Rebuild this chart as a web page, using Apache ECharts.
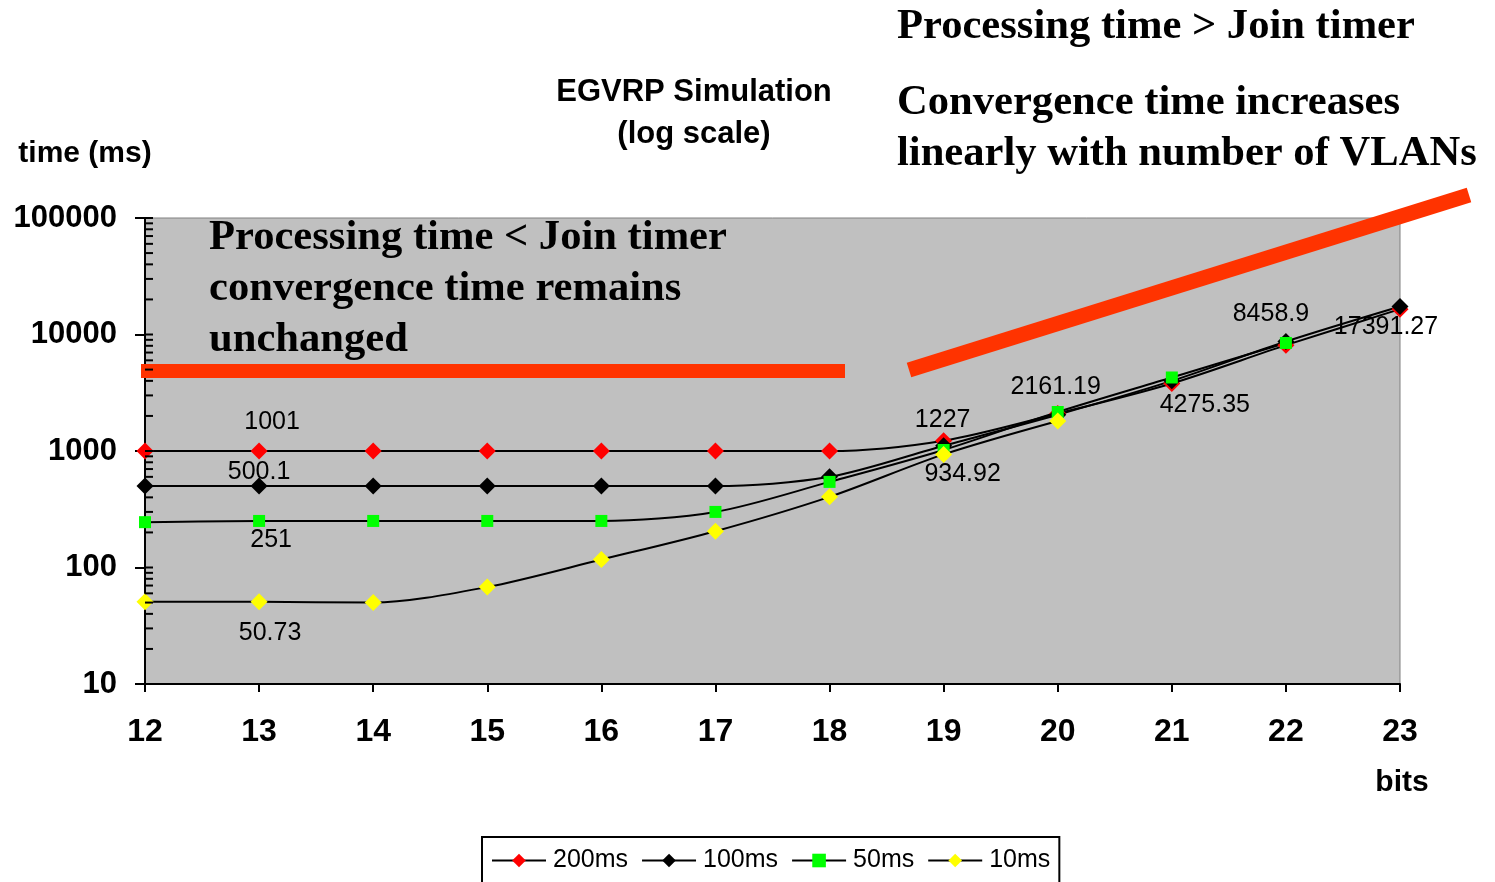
<!DOCTYPE html>
<html>
<head>
<meta charset="utf-8">
<script src="https://cdn.jsdelivr.net/npm/echarts@6/dist/echarts.min.js"></script>
<style>
html,body{margin:0;padding:0;background:#fff;}
#chart{width:1495px;height:882px;}
</style>
</head>
<body>
<div id="chart"></div>
<script>
// ---- data ----
var bits = ['12','13','14','15','16','17','18','19','20','21','22','23'];
var s200 = [1001, 1001, 1001, 1001, 1001, 1001, 1001, 1227, 2100, 3800, 8100, 16500];
var s100 = [500.1, 500.1, 500.1, 500.1, 500.1, 500.1, 600, 1110, 2050, 4000, 8700, 17391.27];
var s50  = [245, 251, 251, 251, 251, 300, 543, 1020, 2161.19, 4275.35, 8458.9];
var s10  = [50.73, 50.73, 50, 68, 117, 205, 404, 934.92, 1810];
var seriesNames = ['200ms', '100ms', '50ms', '10ms'];
var yTicks = [10, 100, 1000, 10000, 100000];

// label offsets (style) keyed by point index
var labelCfg = {
  '200ms': {1: [13, -29], 7: [-1, -21]},
  '100ms': {1: [0, -14], 11: [-14, 21]},
  '50ms':  {1: [12, 19], 8: [-2, -25], 9: [33, 28], 10: [-15, -29]},
  '10ms':  {1: [11, 31], 7: [19, 20]}
};

function buildData(name, arr) {
  var cfg = labelCfg[name] || {};
  return arr.map(function (v, i) {
    if (cfg[i]) {
      return {value: v, label: {show: true, position: 'inside', offset: cfg[i], color: '#000',
        fontFamily: 'Liberation Sans', fontSize: 25, formatter: String(v)}};
    }
    return v;
  });
}

// tick positions on the log axis (1..9 within each decade)
var minorTicks = [];
for (var d = 10; d < 100000; d *= 10) {
  for (var k = 1; k <= 9; k++) minorTicks.push(d * k);
}
minorTicks.push(100000);

var chart = echarts.init(document.getElementById('chart'), null, {renderer: 'canvas'});

var sans = 'Liberation Sans';

function mkSeries(name, arr, symbol, size, color) {
  return {
    name: name, type: 'line', data: buildData(name, arr),
    smooth: 0.3, symbol: symbol, symbolSize: size, showAllSymbol: true,
    lineStyle: {color: '#000', width: 2},
    itemStyle: {color: color, borderWidth: 0},
    emphasis: {disabled: true},
    z: 3
  };
}

var option = {
  animation: false,
  backgroundColor: '#fff',
  grid: {left: 145, right: 95, top: 218, bottom: 198, show: true,
    backgroundColor: '#C0C0C0', borderColor: '#808080', borderWidth: 1},
  legend: {
    data: seriesNames.map(function (n) { return {name: n}; }),
    left: 482, top: 837, orient: 'horizontal',
    itemWidth: 54, itemHeight: 17, itemGap: 13,
    padding: [11, 9, 12, 9],
    borderColor: '#000', borderWidth: 2, backgroundColor: '#fff',
    textStyle: {fontFamily: sans, fontSize: 25, color: '#000', padding: [0, 0, 0, 2]}
  },
  xAxis: {
    type: 'category', data: bits, boundaryGap: false,
    axisLine: {lineStyle: {color: '#000', width: 2}},
    axisTick: {show: true, length: 8, lineStyle: {color: '#000', width: 2}, alignWithLabel: true},
    axisLabel: {fontFamily: sans, fontWeight: 'bold', fontSize: 32, color: '#000', margin: 32},
    splitLine: {show: false}
  },
  yAxis: {
    type: 'log', logBase: 10, min: 10, max: 100000,
    axisLine: {show: true, lineStyle: {color: '#000', width: 2}},
    axisTick: {show: true, length: 10, lineStyle: {color: '#000', width: 2}},
    axisLabel: {fontFamily: sans, fontWeight: 'bold', fontSize: 31, color: '#000', margin: 28,
      formatter: function (v) { return String(Math.round(v)); }},
    splitLine: {show: false}
  },
  series: [
    mkSeries('200ms', s200, 'diamond', 17, '#FF0000'),
    mkSeries('100ms', s100, 'diamond', 17, '#000000'),
    mkSeries('50ms', s50, 'rect', 12, '#00FF00'),
    mkSeries('10ms', s10, 'diamond', 17, '#FFFF00'),
    {
      name: 'minorTicks', type: 'custom', data: minorTicks, clip: false, silent: true, z: 4,
      encode: {y: 0},
      renderItem: function (params, api) {
        var v = api.value(0);
        var p = api.coord([0, v]);
        return {type: 'line', shape: {x1: p[0], y1: p[1], x2: p[0] + 8, y2: p[1]},
          style: {stroke: '#000', lineWidth: 2}};
      }
    }
  ],
  graphic: [
    {type: 'line', z: 2, shape: {x1: 141, y1: 371, x2: 845, y2: 371}, style: {stroke: '#FF3300', lineWidth: 14}},
    {type: 'line', z: 2, shape: {x1: 909, y1: 370, x2: 1469, y2: 195}, style: {stroke: '#FF3300', lineWidth: 15}},
    {type: 'text', z: 10, style: {text: 'EGVRP Simulation', x: 694, y: 92, textAlign: 'center', textVerticalAlign: 'middle', font: 'bold 31px "Liberation Sans"', fill: '#000'}},
    {type: 'text', z: 10, style: {text: '(log scale)', x: 694, y: 134, textAlign: 'center', textVerticalAlign: 'middle', font: 'bold 31px "Liberation Sans"', fill: '#000'}},
    {type: 'text', z: 10, style: {text: 'time (ms)', x: 85, y: 154, textAlign: 'center', textVerticalAlign: 'middle', font: 'bold 30px "Liberation Sans"', fill: '#000'}},
    {type: 'text', z: 10, style: {text: 'bits', x: 1402, y: 783, textAlign: 'center', textVerticalAlign: 'middle', font: 'bold 30px "Liberation Sans"', fill: '#000'}},
    {type: 'text', z: 10, style: {text: 'Processing time > Join timer', x: 897, y: 27, textAlign: 'left', textVerticalAlign: 'middle', font: 'bold 42.6px "Liberation Serif"', fill: '#000'}},
    {type: 'text', z: 10, style: {text: 'Convergence time increases', x: 897, y: 103, textAlign: 'left', textVerticalAlign: 'middle', font: 'bold 42.6px "Liberation Serif"', fill: '#000'}},
    {type: 'text', z: 10, style: {text: 'linearly with number of VLANs', x: 897, y: 154, textAlign: 'left', textVerticalAlign: 'middle', font: 'bold 42.6px "Liberation Serif"', fill: '#000'}},
    {type: 'text', z: 10, style: {text: 'Processing time < Join timer', x: 209, y: 238, textAlign: 'left', textVerticalAlign: 'middle', font: 'bold 42.6px "Liberation Serif"', fill: '#000'}},
    {type: 'text', z: 10, style: {text: 'convergence time remains', x: 209, y: 289, textAlign: 'left', textVerticalAlign: 'middle', font: 'bold 42.6px "Liberation Serif"', fill: '#000'}},
    {type: 'text', z: 10, style: {text: 'unchanged', x: 209, y: 340, textAlign: 'left', textVerticalAlign: 'middle', font: 'bold 42.6px "Liberation Serif"', fill: '#000'}}
  ]
};
chart.setOption(option);
</script>
</body>
</html>
